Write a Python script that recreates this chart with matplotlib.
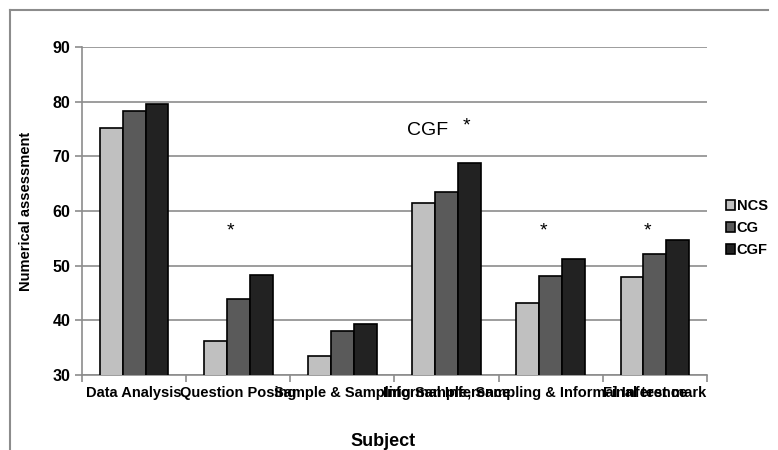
import matplotlib.pyplot as plt
import numpy as np
from matplotlib.lines import Line2D

# data
subjects = ['Data Analysis', 'Question Posing', 'Sample & Sampling',
            'Informal Inference', 'Sample, Sampling & Informal Inference',
            'Final test mark']
groups = ['NCS', 'CG', 'CGF']
ncs = [75.2, 36.3, 33.5, 61.5, 43.2, 47.9]
cg = [78.3, 43.9, 38.0, 63.4, 48.1, 52.1]
cgf = [79.5, 48.3, 39.4, 68.8, 51.2, 54.7]
star_subjects = [1, 4, 5]
star_level = 56.3

plt.rcParams['font.family'] = ['Liberation Sans', 'DejaVu Sans']

fig = plt.figure(figsize=(7.78, 4.5), dpi=100)
ax = fig.add_axes([82 / 778, 1 - 375 / 450, (707 - 82) / 778, (375 - 47) / 450])

colors = ['#c0c0c0', '#5a5a5a', '#222222']
x = np.arange(len(subjects))
w = 0.22
for i, (vals, col, lab) in enumerate(zip([ncs, cg, cgf], colors, groups)):
    ax.bar(x + (i - 1) * w, vals, w, color=col, edgecolor='black',
           linewidth=1.2, label=lab, zorder=3)

ax.set_xlim(-0.5, len(subjects) - 0.5)
ax.set_ylim(30, 90)
ax.set_yticks(range(30, 91, 10))
ax.yaxis.grid(True, color='#8c8c8c', linewidth=1.2, zorder=0)

ax.set_xticks(x)
ax.set_xticklabels(subjects, fontsize=10.5, fontweight='bold')
ax.set_xticks(np.arange(-0.5, len(subjects)), minor=True)
ax.tick_params(axis='x', which='major', length=0, pad=8)
ax.tick_params(axis='x', which='minor', length=5, width=1.2, color='#8c8c8c')
ax.tick_params(axis='y', length=5, width=1.2, color='#8c8c8c', labelsize=11.5)
for t in ax.get_yticklabels():
    t.set_fontweight('bold')

for s in ['top', 'right']:
    ax.spines[s].set_visible(False)
for s in ['left', 'bottom']:
    ax.spines[s].set_color('#8c8c8c')
    ax.spines[s].set_linewidth(1.2)

ax.set_ylabel('Numerical assessment', fontsize=10.5, fontweight='bold', labelpad=14)
fig.text(383 / 778, 1 - 441 / 450, 'Subject', fontsize=13, fontweight='bold',
         ha='center', va='center')

# significance marks
for k in star_subjects:
    ax.text(x[k] - 0.07, star_level, '*', fontsize=14, ha='center', va='center')
ax.text(3 - 0.38, 74.8, 'CGF', fontsize=14, ha='left', va='center')
ax.text(3 + 0.19, 75.5, '*', fontsize=14, ha='center', va='center')

ax.legend(loc='center left', bbox_to_anchor=(1.01, 0.448), frameon=False,
          prop={'weight': 'bold', 'size': 10.5}, handlelength=0.6,
          handleheight=0.6, handletextpad=0.1, labelspacing=0.55)

# outer chart border (top and left visible)
fig.add_artist(Line2D([10 / 778, 768 / 778], [1 - 10 / 450, 1 - 10 / 450],
                      color='#8c8c8c', linewidth=1.5))
fig.add_artist(Line2D([10 / 778, 10 / 778], [0, 1 - 10 / 450],
                      color='#8c8c8c', linewidth=1.5))

fig.savefig('out.png', dpi=100)
